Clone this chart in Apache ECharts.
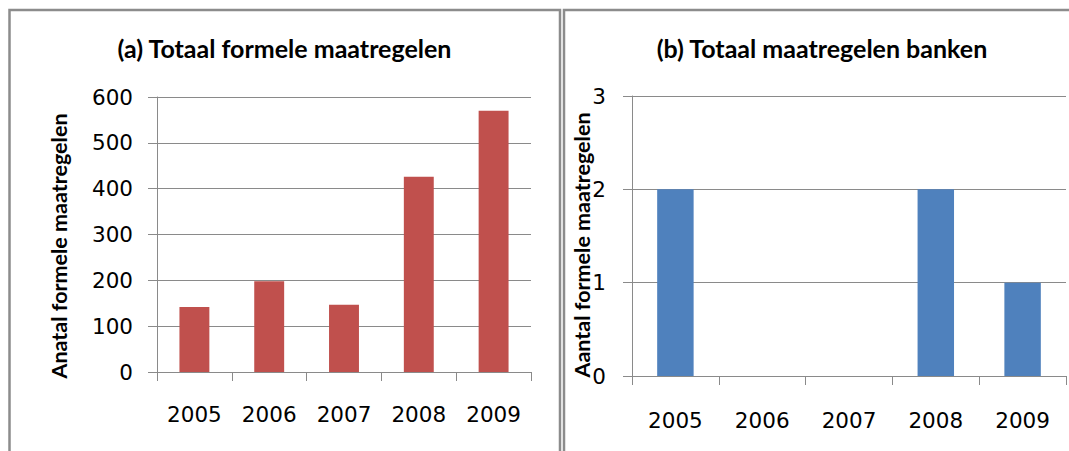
<!DOCTYPE html>
<html>
<head>
<meta charset="utf-8">
<script src="https://cdn.jsdelivr.net/npm/echarts/dist/echarts.min.js"></script>
<style>
  html, body { margin: 0; padding: 0; background: #ffffff; }
  #chart { width: 1069px; height: 451px; }
</style>
</head>
<body>
<div id="chart"></div>
<script>
// Categories and values
const years = ['2005', '2006', '2007', '2008', '2009'];
const totalMeasures = [142, 198, 147, 426, 570];
const bankMeasures = [2, 0, 0, 2, 1];

// Text
const titleA = '(a) Totaal formele maatregelen';
const titleB = '(b) Totaal maatregelen banken';
const yNameA = 'Anatal formele maatregelen';
const yNameB = 'Aantal formele maatregelen';

const TITLE_FONT = 'Lato, "Open Sans", sans-serif';
const TICK_FONT = '"DejaVu Sans", Lato, sans-serif';
const GRID_GRAY = '#8a8a8a';
const BORDER_GRAY = '#8c8c8c';

function textEl(text, x, y, size, rotate) {
  return {
    type: 'text',
    x: x, y: y,
    rotation: rotate ? Math.PI / 2 : 0,
    silent: true,
    z: 10,
    style: {
      text: text,
      font: 'bold ' + size + 'px ' + TITLE_FONT,
      fill: '#000000',
      align: 'center', verticalAlign: 'middle',
      textAlign: 'center', textVerticalAlign: 'middle'
    }
  };
}

function valueAxis(gridIndex, max, interval, margin) {
  return {
    type: 'value', gridIndex: gridIndex, min: 0, max: max, interval: interval,
    axisLine: { show: true, lineStyle: { color: GRID_GRAY, width: 1 } },
    axisTick: { show: true, length: 9, lineStyle: { color: GRID_GRAY, width: 1 } },
    splitLine: { show: true, lineStyle: { color: GRID_GRAY, width: 1 } },
    axisLabel: { color: '#000000', fontFamily: TICK_FONT, fontSize: 21.5, margin: margin }
  };
}

function categoryAxis(gridIndex, margin) {
  return {
    type: 'category', gridIndex: gridIndex, data: years, boundaryGap: true,
    axisLine: { show: true, lineStyle: { color: GRID_GRAY, width: 1 } },
    axisTick: { show: true, length: 9, lineStyle: { color: GRID_GRAY, width: 1 } },
    axisLabel: { color: '#000000', fontFamily: TICK_FONT, fontSize: 21.5, margin: margin }
  };
}

const chart = echarts.init(document.getElementById('chart'), null, { renderer: 'svg' });

chart.setOption({
  backgroundColor: '#ffffff',
  animation: false,
  grid: [
    { left: 157, top: 97, width: 374, height: 275 },
    { left: 632, top: 96, width: 434, height: 280 }
  ],
  xAxis: [categoryAxis(0, 31), categoryAxis(1, 33)],
  yAxis: [valueAxis(0, 600, 100, 24), valueAxis(1, 3, 1, 26)],
  series: [
    {
      type: 'bar', xAxisIndex: 0, yAxisIndex: 0, data: totalMeasures,
      barCategoryGap: '60%',
      itemStyle: { color: '#C0504D' }
    },
    {
      type: 'bar', xAxisIndex: 1, yAxisIndex: 1, data: bankMeasures,
      barCategoryGap: '58%',
      itemStyle: { color: '#4F81BD' }
    }
  ],
  graphic: [
    // panel frames
    { type: 'rect', silent: true, shape: { x: 9.5, y: 10, width: 550.5, height: 480 },
      style: { fill: null, stroke: BORDER_GRAY, lineWidth: 2.5 } },
    { type: 'rect', silent: true, shape: { x: 564, y: 10, width: 520, height: 480 },
      style: { fill: null, stroke: BORDER_GRAY, lineWidth: 2.5 } },
    // chart titles
    textEl(titleA, 284.5, 48, 25, false),
    textEl(titleB, 822, 48, 25, false),
    // value axis titles
    textEl(yNameA, 59, 246, 21.5, true),
    textEl(yNameB, 582, 245, 21.5, true)
  ]
});
</script>
</body>
</html>
